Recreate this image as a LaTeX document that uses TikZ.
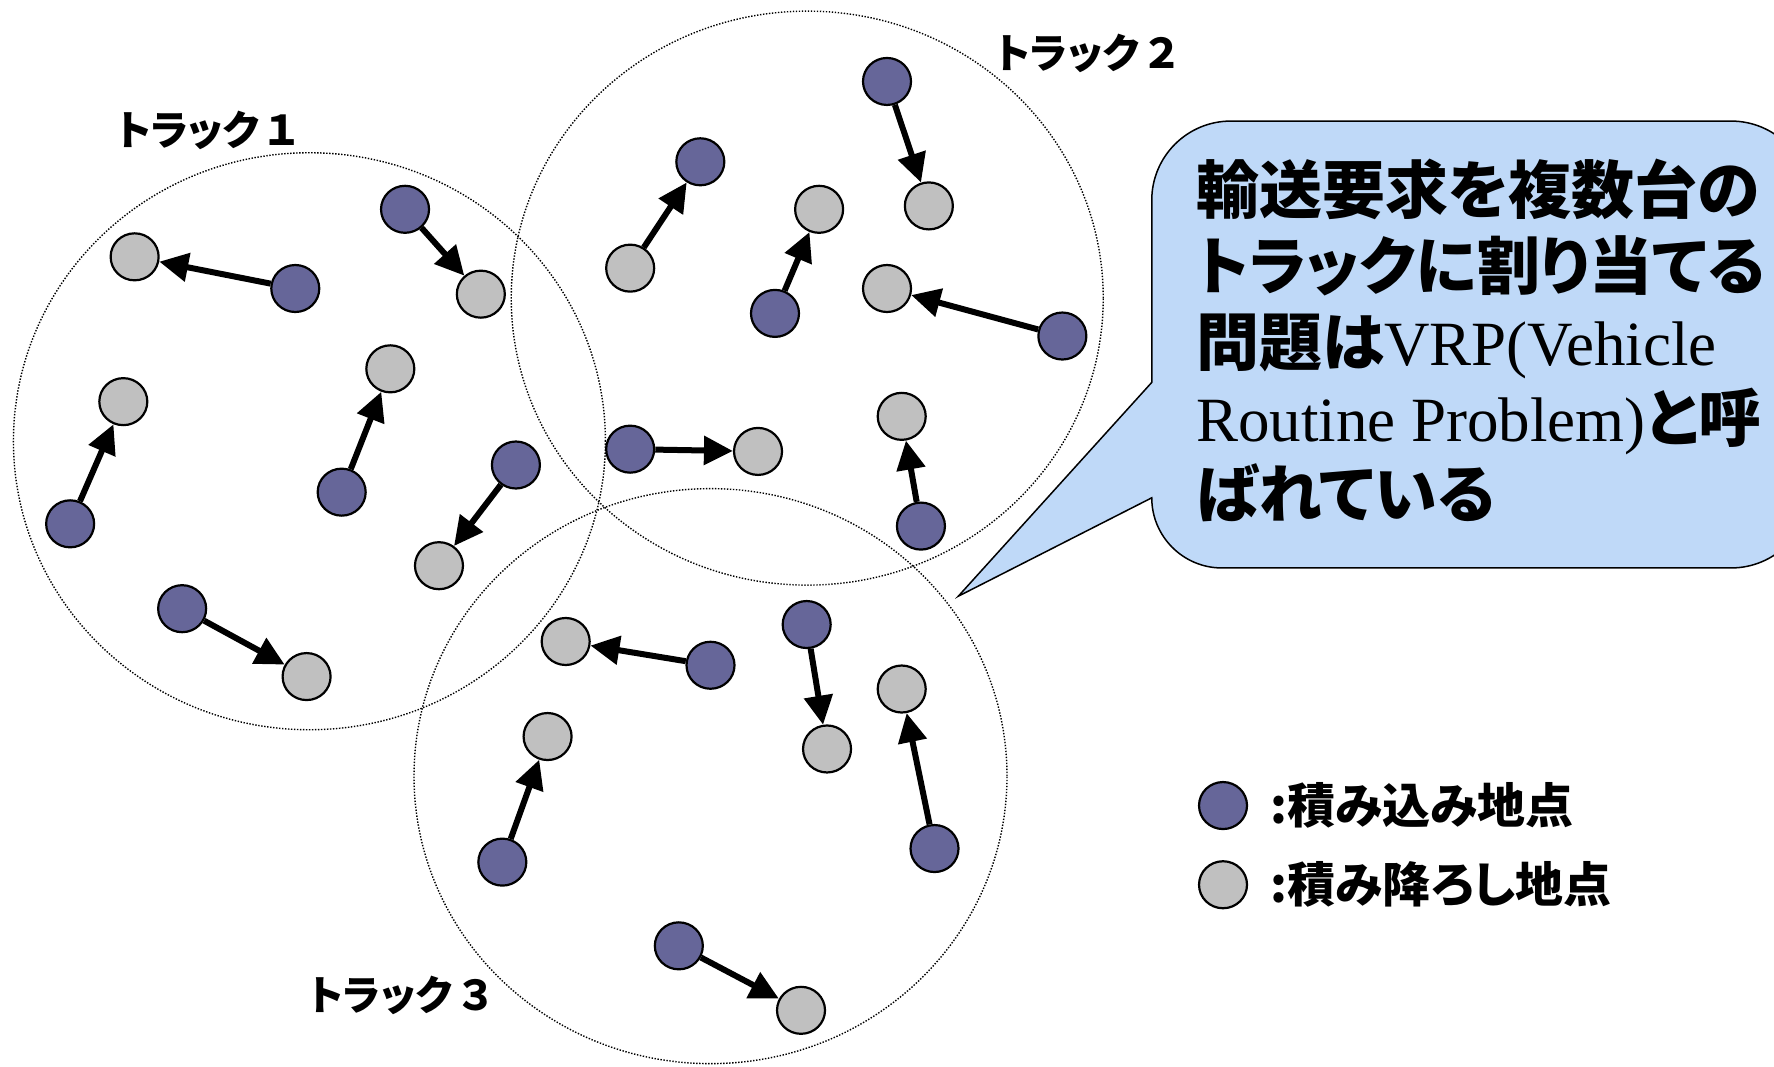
\documentclass[tikz,border=0pt]{standalone}
\usepackage{fontspec}
\usetikzlibrary{shapes.geometric,arrows.meta}
\newfontfamily\jp{Noto Sans CJK JP}[RawFeature=+palt]
\newfontfamily\lat{Liberation Serif}
\definecolor{loadc}{HTML}{666699}
\definecolor{unloadc}{HTML}{C0C0C0}
\definecolor{callfill}{HTML}{BFD9F8}
\tikzset{
  ld/.style={ellipse, draw, line width=2.2pt, fill=loadc, minimum width=48pt, minimum height=47pt, inner sep=0pt},
  ul/.style={ellipse, draw, line width=2.2pt, fill=unloadc, minimum width=48pt, minimum height=47pt, inner sep=0pt},
  arr/.style={line width=6pt, -{Triangle[length=29pt,width=28pt]}},
  trk/.style={ellipse, draw, line width=1.4pt, dash pattern=on 1.4pt off 1.6pt, inner sep=0pt},
  trklabel/.style={anchor=west, inner sep=0pt, font={\fontsize{41}{48}\selectfont\jp\bfseries}},
  legtext/.style={anchor=west, inner sep=0pt, font={\fontsize{48}{54}\selectfont\jp\bfseries}},
  callout/.style={draw, line width=1.5pt, fill=callfill, line join=miter}
}
\begin{document}
\begin{tikzpicture}[x=1.1314pt, y=-1.1314pt]
\fill[white] (0,0) rectangle (1568,943);
\useasboundingbox (0,0) rectangle (1568,943);
\clip (0,0) rectangle (1568,943);

% trucks' regions
\node[trk, minimum width=592pt, minimum height=577pt] (t1) at (273.5,390) {};
\node[trk, minimum width=592pt, minimum height=574pt] (t2) at (713.5,263.5) {};
\node[trk, minimum width=593pt, minimum height=575pt] (t3) at (628,686) {};

\node[trklabel] (l1) at (103,115) {トラック\,１};
\node[trklabel] (l2) at (880,47) {トラック\,２};
\node[trklabel] (l3) at (273,880) {トラック\,３};

% callout
\coordinate (tip) at (847,527);
\draw[callout] (1018,338) -- (1018,177) .. controls (1018,138.3) and (1049.3,107) .. (1088,107)
  -- (1530,107) .. controls (1568.7,107) and (1600,138.3) .. (1600,177)
  -- (1600,432) .. controls (1600,470.7) and (1568.7,502) .. (1530,502)
  -- (1080,502) .. controls (1045.8,502) and (1018,474.2) .. (1018,440)
  -- (tip) -- cycle;
\node[anchor=base west, align=left, inner sep=0pt, font={\fontsize{63}{76}\selectfont\jp\bfseries}] (ctext) at (1057,457)
 {輸送要求を複数台の\\トラックに割り当てる\\問題は{\lat\mdseries VRP(Vehicle}\\{\lat\mdseries Routine Problem)}と呼\\ばれている};

% track 1
\node[ul] (g11) at (119,227) {};
\node[ld] (b11) at (261,255) {};
\node[ld] (b12) at (358,185) {};
\node[ul] (g12) at (425,260) {};
\node[ld] (b13) at (62,463) {};
\node[ul] (g13) at (109,355) {};
\node[ld] (b14) at (302,435) {};
\node[ul] (g14) at (345,326) {};
\node[ld] (b15) at (456,411) {};
\node[ul] (g15) at (388,500) {};
\node[ld] (b16) at (161,538) {};
\node[ul] (g16) at (271,598) {};
% track 2
\node[ld] (b21) at (784,72) {};
\node[ul] (g21) at (821,182) {};
\node[ul] (g22) at (557,237) {};
\node[ld] (b22) at (619,143) {};
\node[ld] (b23) at (685,277) {};
\node[ul] (g23) at (724,185) {};
\node[ld] (b24) at (939,297) {};
\node[ul] (g24) at (784,255) {};
\node[ld] (b25) at (557,397) {};
\node[ul] (g25) at (670,399) {};
\node[ld] (b26) at (814,465) {};
\node[ul] (g26) at (797,368) {};
% track 3
\node[ld] (b31) at (628,588) {};
\node[ul] (g31) at (500,567) {};
\node[ld] (b32) at (713,552) {};
\node[ul] (g32) at (731,662) {};
\node[ld] (b33) at (826,750) {};
\node[ul] (g33) at (797,609) {};
\node[ld] (b34) at (444,762) {};
\node[ul] (g34) at (484,651) {};
\node[ld] (b35) at (600,836) {};
\node[ul] (g35) at (708,893) {};

% arrows
\draw[arr] (b11) -- (g11);
\draw[arr] (b12) -- (g12);
\draw[arr] (b13) -- (g13);
\draw[arr] (b14) -- (g14);
\draw[arr] (b15) -- (g15);
\draw[arr] (b16) -- (g16);
\draw[arr] (b21) -- (g21);
\draw[arr] (g22) -- (b22);
\draw[arr] (b23) -- (g23);
\draw[arr] (b24) -- (g24);
\draw[arr] (b25) -- (g25);
\draw[arr] (b26) -- (g26);
\draw[arr] (b31) -- (g31);
\draw[arr] (b32) -- (g32);
\draw[arr] (b33) -- (g33);
\draw[arr] (b34) -- (g34);
\draw[arr] (b35) -- (g35);

% legend
\node[ld] (lg1) at (1081,712) {};
\node[ul] (lg2) at (1081,782) {};
\node[legtext] (lt1) at (1123,712) {:積み込み地点};
\node[legtext] (lt2) at (1123,782) {:積み降ろし地点};
\end{tikzpicture}
\end{document}
